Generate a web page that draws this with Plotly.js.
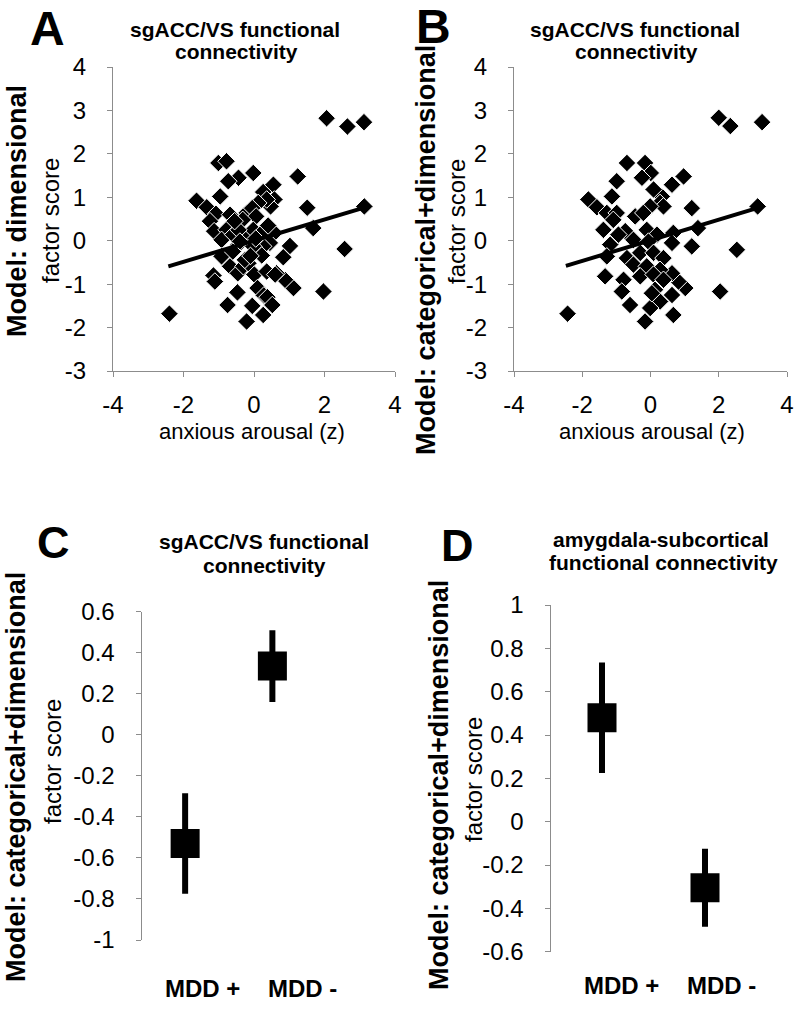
<!DOCTYPE html>
<html>
<head>
<meta charset="utf-8">
<script src="https://cdn.plot.ly/plotly-3.0.1.min.js"></script>
<style>html,body{margin:0;padding:0;background:#fff;}#chart{width:800px;height:1015px;}</style>
</head>
<body>
<div id="chart"></div>
<script>
// Panel A: model dimensional – anxious arousal (z) vs factor score
const anxA = [-2.40,2.06,2.65,3.12,3.13,1.51,1.68,2.57,1.97,1.24,1.12,1.02,0.83,0.88,0.64,
  0.55,0.58,0.47,0.58,0.45,0.26,0.36,0.12,-0.02,-0.44,-0.73,-1.01,-0.78,-0.96,-1.63,
  -1.34,-1.08,-1.25,-0.68,-1.13,-0.78,-0.92,-0.59,-0.44,-0.92,-0.68,-1.15,-1.11,-0.46,-0.30,
  -0.16,0.01,0.36,0.17,0.26,-0.02,-0.21,-0.21,-0.05,0.06,-0.32,-0.02,0.17,-0.44,-0.47,
  -0.75,0.10,0.28,0.38,-0.05,-0.21,0.26,0.52,-0.40,0.22,-0.26,0.60,0.05,-0.60,0.40,-0.10,-0.55];
const scoreA = [-1.68,2.82,2.63,2.73,0.79,0.76,0.29,-0.19,-1.17,1.48,-1.09,-0.12,-0.38,-0.90,-0.75,
  1.29,0.95,0.79,0.18,-0.05,1.12,0.95,0.87,1.56,1.45,1.37,1.79,1.83,1.02,0.92,
  0.77,0.62,0.45,0.60,0.22,0.25,0.02,0.14,-0.09,-0.36,-0.59,-0.80,-0.94,-0.75,-0.59,
  -0.52,-0.78,-0.71,-0.28,-0.13,-0.13,0.10,0.64,0.75,0.56,0.48,0.25,0.14,0.25,-1.19,
  -1.48,-1.09,-1.26,-1.30,-1.50,-1.86,-1.71,-1.48,-0.02,-0.34,-0.44,-0.78,0.05,-0.25,0.35,-0.35,0.45];
const fitAx = [-2.43, 3.08];
const fitAy = [-0.59, 0.75];

// Panel B: model categorical+dimensional
const anxB = [-2.43,2.00,2.34,3.27,3.14,1.21,1.39,1.21,2.53,2.04,0.97,1.02,0.82,0.63,0.33,
  0.63,0.09,0.28,0.38,-0.01,-0.16,0.01,-0.25,-0.69,-0.99,-1.13,-1.82,-1.57,-1.28,-0.99,
  -1.09,-1.38,-0.74,-0.45,-0.21,-0.11,0.19,0.67,0.63,-1.18,-0.94,-0.50,-0.06,-1.28,-0.69,
  -0.30,0.09,0.38,-0.50,-0.11,0.28,-1.33,-0.79,-0.30,0.09,0.38,-0.84,0.13,0.28,0.63,
  -0.60,-0.01,-0.16,0.67,0.04];
const scoreB = [-1.68,2.83,2.64,2.73,0.79,0.75,0.29,-0.13,-0.21,-1.17,1.48,-1.09,-0.94,-0.75,1.02,
  1.29,1.18,0.87,0.79,0.79,1.79,1.56,1.45,1.79,1.37,1.02,0.95,0.77,0.64,0.64,
  0.48,0.25,0.22,0.56,0.64,0.25,0.14,0.18,-0.05,-0.09,0.14,0.02,-0.02,-0.36,-0.40,
  -0.28,-0.28,-0.40,-0.55,-0.59,-0.67,-0.82,-0.90,-0.82,-0.78,-0.90,-1.17,-1.13,-1.40,-1.25,
  -1.48,-1.55,-1.86,-1.71,-1.21];
const fitBx = [-2.48, 3.12];
const fitBy = [-0.58, 0.75];

// Panels C and D: group means with error bars
const groups = ["MDD +", "MDD -"];
const meanC = [-0.53, 0.335];
const errC = [0.245, 0.175];
const meanD = [0.48, -0.305];
const errD = [0.255, 0.18];

const tickValsAB_x = [-4, -2, 0, 2, 4];
const tickTextAB_x = ["-4", "-2", "0", "2", "4"];
const tickValsAB_y = [-3, -2, -1, 0, 1, 2, 3, 4];
const tickTextAB_y = ["-3", "-2", "-1", "0", "1", "2", "3", "4"];
const tickValsC = [-1, -0.8, -0.6, -0.4, -0.2, 0, 0.2, 0.4, 0.6];
const tickTextC = ["-1", "-0.8", "-0.6", "-0.4", "-0.2", "0", "0.2", "0.4", "0.6"];
const tickValsD = [-0.6, -0.4, -0.2, 0, 0.2, 0.4, 0.6, 0.8, 1];
const tickTextD = ["-0.6", "-0.4", "-0.2", "0", "0.2", "0.4", "0.6", "0.8", "1"];

const FONT = "Liberation Sans, Arial, sans-serif";
const AX = "#8c8c8c";
const W = 800, H = 1015;
const px = v => v / W;
const py = v => 1 - v / H;

const diamond = {symbol: "diamond", size: 13.5, color: "#000", line: {color: "#fff", width: 1}};

const traces = [
  {type: "scatter", mode: "markers", x: anxA, y: scoreA, xaxis: "x", yaxis: "y", marker: diamond, cliponaxis: false},
  {type: "scatter", mode: "lines", x: fitAx, y: fitAy, xaxis: "x", yaxis: "y", line: {color: "#000", width: 4}},
  {type: "scatter", mode: "markers", x: anxB, y: scoreB, xaxis: "x2", yaxis: "y2", marker: diamond, cliponaxis: false},
  {type: "scatter", mode: "lines", x: fitBx, y: fitBy, xaxis: "x2", yaxis: "y2", line: {color: "#000", width: 4}},
  {type: "scatter", mode: "markers", x: groups, y: meanC, xaxis: "x3", yaxis: "y3",
   marker: {symbol: "square", size: 29, color: "#000"},
   error_y: {type: "data", array: errC, visible: true, color: "#000", thickness: 6, width: 0}},
  {type: "scatter", mode: "markers", x: groups, y: meanD, xaxis: "x4", yaxis: "y4",
   marker: {symbol: "square", size: 29, color: "#000"},
   error_y: {type: "data", array: errD, visible: true, color: "#000", thickness: 6, width: 0}}
];

function xAx(domain, anchor) {
  return {domain: domain, anchor: anchor, range: [-4, 4], tickmode: "array", tickvals: tickValsAB_x, ticktext: tickTextAB_x,
    showline: true, linecolor: AX, linewidth: 1, ticks: "outside", ticklen: 5, tickcolor: AX,
    showgrid: false, zeroline: false, tickfont: {family: FONT, size: 24, color: "#000"}, ticklabelstandoff: 7};
}
function yAx(domain, anchor, range, vals, text) {
  return {domain: domain, anchor: anchor, range: range, tickmode: "array", tickvals: vals, ticktext: text,
    showline: true, linecolor: AX, linewidth: 1, ticks: "outside", ticklen: 5, tickcolor: AX,
    showgrid: false, zeroline: false, tickfont: {family: FONT, size: 24, color: "#000"}, ticklabelstandoff: 16};
}
function catAx(domain, anchor) {
  return {domain: domain, anchor: anchor, type: "category", range: [-0.5, 1.5], showticklabels: false,
    showline: false, ticks: "", showgrid: false, zeroline: false};
}

const yDomAB = [py(371), py(67)];
const layout = {
  width: W, height: H, margin: {l: 0, r: 0, t: 0, b: 0}, showlegend: false,
  paper_bgcolor: "#fff", plot_bgcolor: "rgba(0,0,0,0)",
  font: {family: FONT, color: "#000"},
  xaxis: xAx([px(113), px(395)], "y"),
  yaxis: yAx(yDomAB, "x", [-3, 4], tickValsAB_y, tickTextAB_y),
  xaxis2: xAx([px(514), px(787)], "y2"),
  yaxis2: yAx(yDomAB, "x2", [-3, 4], tickValsAB_y, tickTextAB_y),
  xaxis3: catAx([px(141.5), px(316)], "y3"),
  yaxis3: yAx([py(940), py(611.7)], "x3", [-1, 0.6], tickValsC, tickTextC),
  xaxis4: catAx([px(550.5), px(756.5)], "y4"),
  yaxis4: yAx([py(951.7), py(605)], "x4", [-0.6, 1], tickValsD, tickTextD),
  annotations: []
};

function ann(text, x, y, size, bold, angle) {
  layout.annotations.push({text: bold ? "<b>" + text + "</b>" : text, xref: "paper", yref: "paper",
    x: px(x), y: py(y), xanchor: "center", yanchor: "middle", showarrow: false,
    textangle: angle || 0, font: {family: FONT, size: size, color: "#000"}});
}

// panel letters
ann("A", 47, 28, 48, true);
ann("B", 433, 27, 48, true);
ann("C", 53, 542, 45, true);
ann("D", 457, 545, 45, true);
// panel titles
ann("sgACC/VS functional", 235, 30, 21, true);
ann("connectivity", 236, 52, 21, true);
ann("sgACC/VS functional", 635, 30, 21, true);
ann("connectivity", 636, 52, 21, true);
ann("sgACC/VS functional", 264, 541, 21, true);
ann("connectivity", 264.5, 565, 21, true);
ann("amygdala-subcortical", 661, 539, 21, true);
ann("functional connectivity", 663, 562, 21, true);
// y titles
ann("Model: dimensional", 17, 211, 27, true, -90);
ann("factor score", 50, 221, 24, false, -90);
ann("Model: categorical+dimensional", 426, 250, 27, true, -90);
ann("factor score", 456, 221, 24, false, -90);
ann("Model: categorical+dimensional", 16, 777, 27, true, -90);
ann("factor score", 52, 762, 24, false, -90);
ann("Model: categorical+dimensional", 439, 785, 27, true, -90);
ann("factor score", 473, 780, 24, false, -90);
// x titles
ann("anxious arousal (z)", 251.5, 431, 22, false);
ann("anxious arousal (z)", 652, 431, 22, false);
// group labels
ann(groups[0], 202.5, 988, 24, true);
ann(groups[1], 302, 988, 24, true);
ann(groups[0], 621, 985, 24, true);
ann(groups[1], 721.5, 985, 24, true);

Plotly.newPlot("chart", traces, layout, {staticPlot: true, displayModeBar: false});
</script>
</body>
</html>
